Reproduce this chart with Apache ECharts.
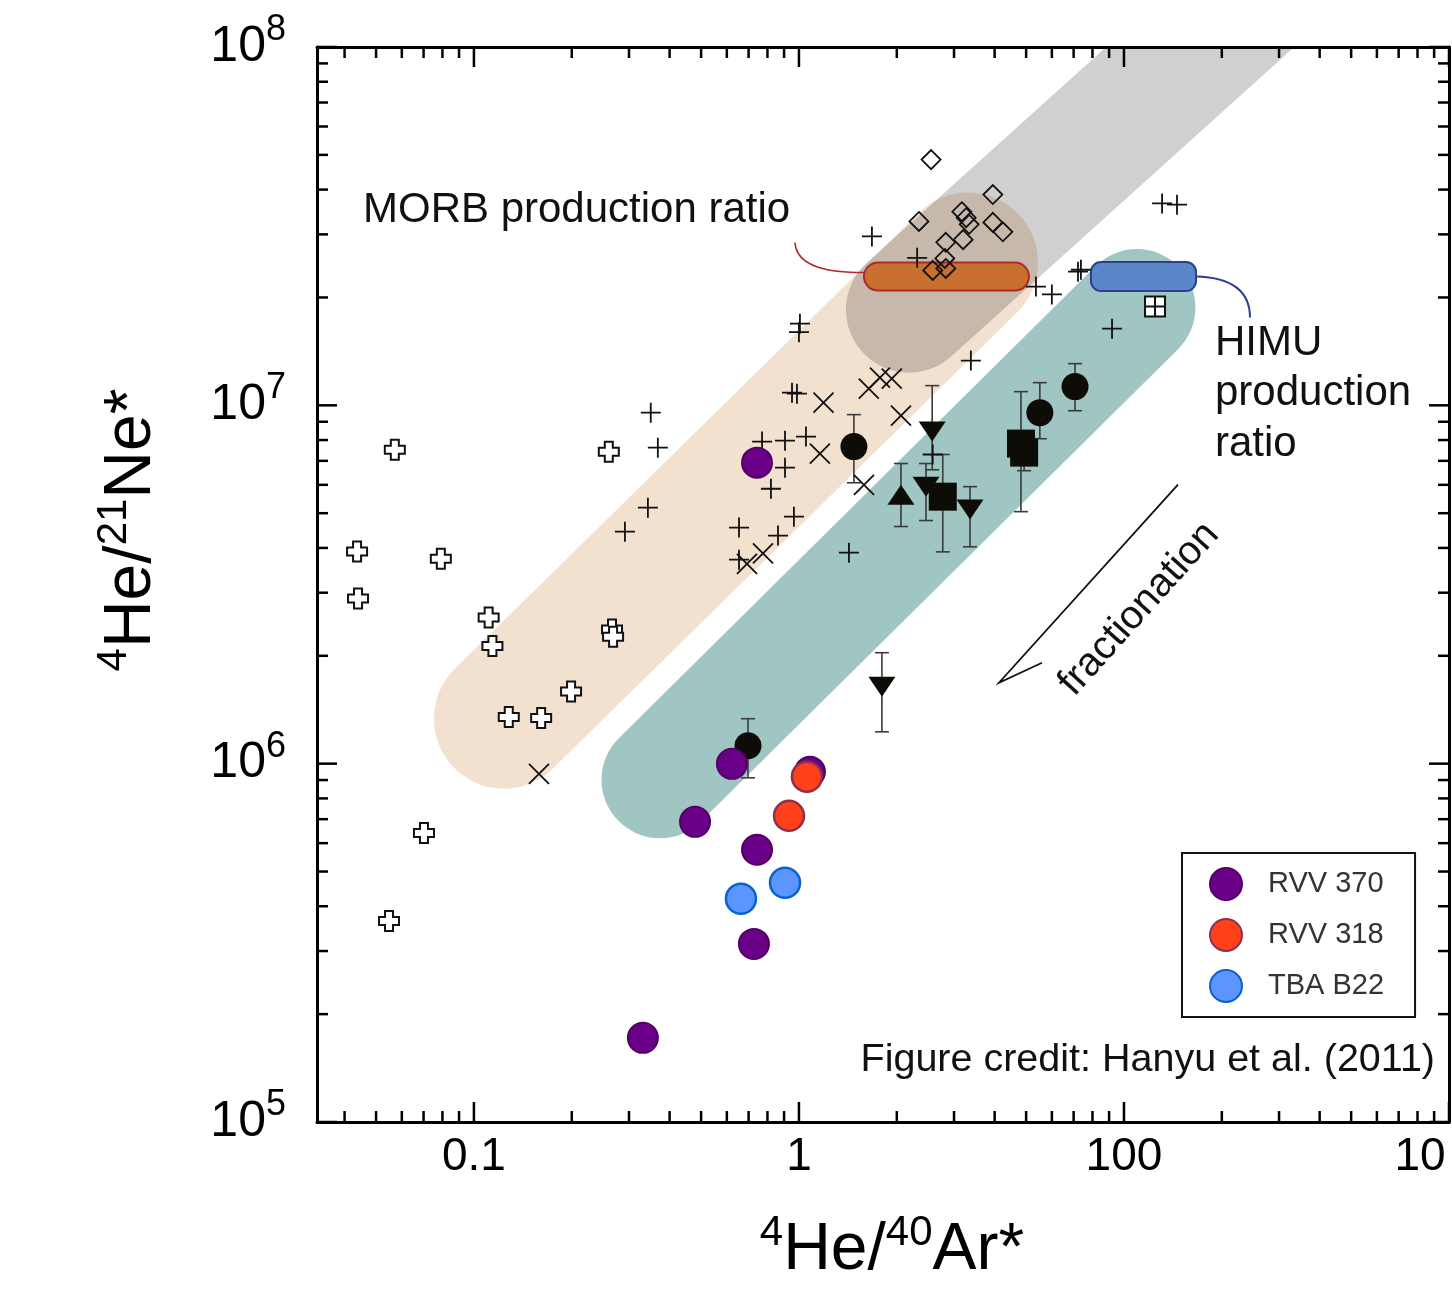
<!DOCTYPE html>
<html>
<head>
<meta charset="utf-8">
<title>4He/21Ne* vs 4He/40Ar*</title>
<script src="https://cdn.jsdelivr.net/npm/echarts@6/dist/echarts.min.js"></script>
<style>
  html, body { margin: 0; padding: 0; background: #fff; }
  #chart { width: 1452px; height: 1291px; }
</style>
</head>
<body>
<div id="chart"></div>
<script>
// ---------------- axes ----------------
const xRange = [0.0329, 100];
const yRange = [1e5, 1e8];
const xMajorTicks = [0.1, 1, 10, 100];
const xTickLabels = ['0.1', '1', '100', '10'];
const yMajorTicks = [1e5, 1e6, 1e7, 1e8];
const yTickExponents = ['5', '6', '7', '8'];

// ---------------- literature data: [4He/40Ar*, 4He/21Ne*] ----------------
const openCrossPoints = [
  [0.0571, 7.52e6], [0.260, 7.42e6], [0.0437, 3.91e6], [0.0791, 3.73e6],
  [0.0440, 2.89e6], [0.111, 2.56e6], [0.114, 2.13e6], [0.266, 2.37e6],
  [0.268, 2.26e6], [0.199, 1.59e6], [0.128, 1.35e6], [0.161, 1.34e6],
  [0.0702, 6.41e5], [0.0548, 3.64e5]
];
const xMarkPoints = [
  [1.19, 1.017e7], [1.16, 7.33e6], [1.585, 6.0e6], [2.06, 9.36e6],
  [1.64, 1.113e7], [1.775, 1.195e7], [1.93, 1.187e7], [0.775, 3.86e6],
  [0.692, 3.61e6], [0.1585, 9.37e5]
];
const plusPoints = [
  [1.677, 2.96e7], [2.31, 2.58e7], [1.007, 1.69e7], [1.0, 1.6e7],
  [0.952, 1.085e7], [0.986, 1.078e7], [0.350, 9.54e6], [0.368, 7.62e6],
  [0.2915, 4.44e6], [0.343, 5.18e6], [0.770, 7.92e6], [0.906, 7.97e6],
  [1.051, 8.18e6], [0.906, 6.70e6], [0.820, 5.85e6], [0.965, 4.89e6],
  [0.862, 4.33e6], [0.654, 4.56e6], [0.654, 3.71e6], [1.425, 3.88e6],
  [2.58, 7.29e6], [3.38, 1.333e7], [5.36, 2.145e7], [6.00, 2.04e7],
  [7.22, 2.36e7], [7.37, 2.39e7], [9.19, 1.637e7], [13.1, 3.66e7],
  [14.56, 3.63e7]
];
const diamondPoints = [
  [2.55, 4.85e7], [3.95, 3.875e7], [2.34, 3.26e7], [3.17, 3.47e7],
  [3.27, 3.34e7], [3.34, 3.2e7], [3.95, 3.24e7], [4.24, 3.05e7],
  [2.83, 2.85e7], [3.20, 2.9e7], [2.81, 2.57e7], [2.58, 2.38e7],
  [2.83, 2.41e7]
];
const boxedPlusPoints = [[12.46, 1.886e7]];

// [4He/40Ar*, 4He/21Ne*, lower, upper]
const blackCircles = [
  [1.476, 7.67e6, 6.08e6, 9.42e6], [5.51, 9.54e6, 8.07e6, 1.157e7],
  [7.07, 1.128e7, 9.66e6, 1.307e7], [0.697, 1.122e6, 9.13e5, 1.335e6]
];
const blackSquares = [
  [2.77, 5.56e6, 3.9e6, 7.29e6], [4.82, 7.82e6, 5.05e6, 1.092e7],
  [4.93, 7.38e6, 6.57e6, 8.23e6]
];
const blackTrianglesUp = [[2.06, 5.63e6, 4.59e6, 6.88e6]];
const blackTrianglesDown = [
  [2.57, 8.45e6, 6.61e6, 1.135e7], [2.46, 5.93e6, 4.77e6, 6.88e6],
  [3.36, 5.12e6, 4.03e6, 5.93e6], [1.80, 1.64e6, 1.227e6, 2.04e6]
];

// ---------------- samples of this study ----------------
const rvv370 = [
  [0.622, 9.99e5], [0.479, 6.88e5], [0.743, 5.75e5], [0.727, 3.14e5],
  [0.331, 1.717e5], [1.081, 9.49e5], [0.743, 6.92e6]
];
const rvv318 = [[1.058, 9.19e5], [0.932, 7.15e5]];
const tbaB22 = [[0.906, 4.65e5], [0.663, 4.2e5]];

// ---------------- fields and production ratios ----------------
const morbField = [[0.1237, 1.335e6], [3.311, 2.503e7]];
const himuField = [[0.3736, 9.02e5], [10.96, 1.874e7]];
const greyField = [[2.18, 1.85e7], [35.8, 1.824e8]];
const morbRatio = [1.585, 5.10, 2.288e7];   // [x from, x to, 4He/21Ne*]
const himuRatio = [7.915, 16.66, 2.288e7];
const morbLeader = [[0.972, 2.846e7], [0.986, 2.423e7], [1.246, 2.347e7], [1.585, 2.347e7]];
const himuLeader = [[16.66, 2.288e7], [21.49, 2.273e7], [24.42, 2.077e7], [24.42, 1.757e7]];
const fractionationWedge = [[14.66, 6.005e6], [4.125, 1.682e6], [5.594, 1.913e6]];

// ---------------- drawing ----------------
const FONT = '"Liberation Sans", Arial, Helvetica, sans-serif';
const INK = '#0d0c06';

function isDecade(v, list) {
  return list.findIndex(t => Math.abs(Math.log10(t) - Math.log10(v)) < 1e-6);
}

// minor/major tick values spanning each axis range
function logTicks(range) {
  const out = [];
  const lo = Math.floor(Math.log10(range[0]));
  const hi = Math.ceil(Math.log10(range[1]));
  for (let e = lo; e <= hi; e++) {
    for (let k = 1; k <= 9; k++) {
      const v = k * Math.pow(10, e);
      if (v >= range[0] * 0.9999 && v <= range[1] * 1.0001) out.push([v, k === 1 ? 1 : 0]);
    }
  }
  return out;
}

function capsule(name, ends, width, fill) {
  return {
    type: 'custom', name, z: 1, silent: true, clip: true,
    data: [[ends[0][0], ends[0][1], ends[1][0], ends[1][1]]],
    encode: { x: [0, 2], y: [1, 3] },
    renderItem(params, api) {
      const a = api.coord([api.value(0), api.value(1)]);
      const b = api.coord([api.value(2), api.value(3)]);
      const dx = b[0] - a[0], dy = b[1] - a[1];
      const len = Math.hypot(dx, dy);
      return {
        type: 'rect',
        x: (a[0] + b[0]) / 2, y: (a[1] + b[1]) / 2,
        rotation: Math.atan2(-dy, dx),
        shape: { x: -len / 2 - width / 2, y: -width / 2, width: len + width, height: width, r: width / 2 },
        style: { fill }
      };
    }
  };
}

function ratioBar(name, bar, height, radius, fill, stroke) {
  return {
    type: 'custom', name, z: 2, silent: true,
    data: [[bar[0], bar[2], bar[1]]],
    encode: { x: [0, 2], y: 1 },
    renderItem(params, api) {
      const a = api.coord([api.value(0), api.value(1)]);
      const b = api.coord([api.value(2), api.value(1)]);
      return {
        type: 'rect',
        shape: { x: a[0], y: a[1] - height / 2, width: b[0] - a[0], height, r: radius },
        style: { fill, stroke, lineWidth: 2 }
      };
    }
  };
}

function leader(name, pts, stroke, lineWidth) {
  return {
    type: 'custom', name, z: 2, silent: true,
    data: [pts.flat()],
    encode: { x: [0, 2, 4, 6], y: [1, 3, 5, 7] },
    renderItem(params, api) {
      const p = [0, 1, 2, 3].map(i => api.coord([api.value(2 * i), api.value(2 * i + 1)]));
      return {
        type: 'bezierCurve',
        shape: { x1: p[0][0], y1: p[0][1], cpx1: p[1][0], cpy1: p[1][1], cpx2: p[2][0], cpy2: p[2][1], x2: p[3][0], y2: p[3][1] },
        style: { stroke, lineWidth, fill: null }
      };
    }
  };
}

function polylineSeries(name, pts) {
  return {
    type: 'custom', name, z: 2, silent: true,
    data: [pts.flat()],
    encode: { x: [0, 2, 4], y: [1, 3, 5] },
    renderItem(params, api) {
      const p = [0, 1, 2].map(i => api.coord([api.value(2 * i), api.value(2 * i + 1)]));
      return { type: 'polyline', shape: { points: p }, style: { stroke: '#111', lineWidth: 1.8, fill: null } };
    }
  };
}

const errorRows = [].concat(blackCircles, blackSquares, blackTrianglesUp, blackTrianglesDown);

const series = [
  capsule('MORB field', morbField, 140, '#f3e1cf'),
  capsule('HIMU field', himuField, 117, '#9fc6c3'),
  capsule('Grey field', greyField, 126, 'rgba(50,50,50,0.23)'),
  ratioBar('MORB production ratio', morbRatio, 28, 14, '#c8702f', '#b3262a'),
  ratioBar('HIMU production ratio', himuRatio, 29, 10, '#5b87c9', '#2f3d95'),
  leader('MORB leader', morbLeader, '#b3262a', 1.6),
  leader('HIMU leader', himuLeader, '#2f3d95', 2),
  polylineSeries('fractionation', fractionationWedge),
  {
    type: 'custom', name: 'x ticks', z: 3, silent: true,
    data: logTicks(xRange).map(t => [t[0], yRange[0], t[1]]),
    encode: { x: 0, y: 1 },
    renderItem(params, api) {
      const p = api.coord([api.value(0), api.value(1)]);
      const cs = params.coordSys;
      const len = api.value(2) ? 20 : 11;
      const st = { stroke: '#000', lineWidth: 2.5 };
      return { type: 'group', children: [
        { type: 'line', shape: { x1: p[0], y1: cs.y + cs.height, x2: p[0], y2: cs.y + cs.height - len }, style: st },
        { type: 'line', shape: { x1: p[0], y1: cs.y, x2: p[0], y2: cs.y + len }, style: st }
      ] };
    }
  },
  {
    type: 'custom', name: 'y ticks', z: 3, silent: true,
    data: logTicks(yRange).map(t => [xRange[0], t[0], t[1]]),
    encode: { x: 0, y: 1 },
    renderItem(params, api) {
      const p = api.coord([api.value(0), api.value(1)]);
      const cs = params.coordSys;
      const len = api.value(2) ? 20 : 11;
      const st = { stroke: '#000', lineWidth: 2.5 };
      return { type: 'group', children: [
        { type: 'line', shape: { x1: cs.x, y1: p[1], x2: cs.x + len, y2: p[1] }, style: st },
        { type: 'line', shape: { x1: cs.x + cs.width, y1: p[1], x2: cs.x + cs.width - len, y2: p[1] }, style: st }
      ] };
    }
  },
  {
    type: 'custom', name: 'error bars', z: 4, silent: true,
    data: errorRows.map(r => [r[0], r[2], r[3]]),
    encode: { x: 0, y: [1, 2] },
    renderItem(params, api) {
      const lo = api.coord([api.value(0), api.value(1)]);
      const hi = api.coord([api.value(0), api.value(2)]);
      const cap = 7;
      const st = { stroke: '#3b3b3b', lineWidth: 1.6 };
      return { type: 'group', children: [
        { type: 'line', shape: { x1: lo[0], y1: lo[1], x2: hi[0], y2: hi[1] }, style: st },
        { type: 'line', shape: { x1: lo[0] - cap, y1: lo[1], x2: lo[0] + cap, y2: lo[1] }, style: st },
        { type: 'line', shape: { x1: hi[0] - cap, y1: hi[1], x2: hi[0] + cap, y2: hi[1] }, style: st }
      ] };
    }
  },
  {
    type: 'scatter', name: 'open cross', z: 5, silent: true,
    data: openCrossPoints,
    symbol: 'path://M6,0H14V6H20V14H14V20H6V14H0V6H6Z', symbolSize: 20,
    itemStyle: { color: '#fff', borderColor: '#111', borderWidth: 2, opacity: 1 }
  },
  {
    type: 'scatter', name: 'cross', z: 5, silent: true,
    data: xMarkPoints,
    symbol: 'path://M0,0L20,20M20,0L0,20', symbolSize: 20,
    itemStyle: { color: 'transparent', borderColor: '#111', borderWidth: 1.8, opacity: 1 }
  },
  {
    type: 'scatter', name: 'plus', z: 5, silent: true,
    data: plusPoints,
    symbol: 'path://M10,0V20M0,10H20', symbolSize: 20,
    itemStyle: { color: 'transparent', borderColor: '#111', borderWidth: 1.8, opacity: 1 }
  },
  {
    type: 'scatter', name: 'diamond', z: 5, silent: true,
    data: diamondPoints,
    symbol: 'diamond', symbolSize: 19,
    itemStyle: { color: 'transparent', borderColor: '#111', borderWidth: 1.8, opacity: 1 }
  },
  {
    type: 'scatter', name: 'boxed plus', z: 5, silent: true,
    data: boxedPlusPoints,
    symbol: 'path://M0,0H20V20H0ZM10,0V20M0,10H20', symbolSize: 20,
    itemStyle: { color: '#fff', borderColor: '#111', borderWidth: 2, opacity: 1 }
  },
  {
    type: 'scatter', name: 'black circle', z: 5, silent: true,
    data: blackCircles.map(r => [r[0], r[1]]),
    symbol: 'circle', symbolSize: 27,
    itemStyle: { color: INK, opacity: 1 }
  },
  {
    type: 'scatter', name: 'black square', z: 5, silent: true,
    data: blackSquares.map(r => [r[0], r[1]]),
    symbol: 'rect', symbolSize: 28,
    itemStyle: { color: INK, opacity: 1 }
  },
  {
    type: 'scatter', name: 'black triangle up', z: 5, silent: true,
    data: blackTrianglesUp.map(r => [r[0], r[1]]),
    symbol: 'triangle', symbolSize: [27, 20],
    itemStyle: { color: INK, opacity: 1 }
  },
  {
    type: 'scatter', name: 'black triangle down', z: 5, silent: true,
    data: blackTrianglesDown.map(r => [r[0], r[1]]),
    symbol: 'triangle', symbolRotate: 180, symbolSize: [27, 20],
    itemStyle: { color: INK, opacity: 1 }
  },
  {
    type: 'scatter', name: 'RVV 370', z: 6,
    data: rvv370, symbol: 'circle', symbolSize: 30,
    itemStyle: { color: '#6b0088', borderColor: '#520066', borderWidth: 2, opacity: 1 }
  },
  {
    type: 'scatter', name: 'RVV 318', z: 6,
    data: rvv318, symbol: 'circle', symbolSize: 30,
    itemStyle: { color: '#ff4019', borderColor: '#8e2f50', borderWidth: 2.5, opacity: 1 }
  },
  {
    type: 'scatter', name: 'TBA B22', z: 6,
    data: tbaB22, symbol: 'circle', symbolSize: 30,
    itemStyle: { color: '#5c95ff', borderColor: '#0a62cc', borderWidth: 2.5, opacity: 1 }
  }
];

function logAxis(range, position, extra) {
  return Object.assign({
    type: 'log', logBase: 10, min: range[0], max: range[1], position, z: 10,
    axisLine: { show: true, onZero: false, lineStyle: { color: '#000', width: 3 } },
    axisTick: { show: false }, minorTick: { show: false },
    splitLine: { show: false }, minorSplitLine: { show: false },
    axisLabel: { show: false }
  }, extra || {});
}

const option = {
  animation: false,
  backgroundColor: '#fff',
  grid: { left: 317, right: 3, top: 47, bottom: 169, containLabel: false, outerBoundsMode: 'none' },
  xAxis: [
    logAxis(xRange, 'bottom', {
      axisLabel: {
        show: true, margin: 12, fontSize: 46, fontFamily: FONT, color: '#000',
        formatter: v => {
          const i = isDecade(v, xMajorTicks);
          if (i < 0) return '';
          // the last label sits at the right edge of the frame and reads to its left
          return i === xTickLabels.length - 1 ? '{r|' + xTickLabels[i] + '}' : xTickLabels[i];
        },
        rich: { r: { fontSize: 46, fontFamily: FONT, color: '#000', padding: [0, 58, 0, 0] } }
      }
    }),
    logAxis(xRange, 'top')
  ],
  yAxis: [
    logAxis(yRange, 'left', {
      axisLabel: {
        show: true, margin: 31, color: '#000',
        formatter: v => { const i = isDecade(v, yMajorTicks); return i < 0 ? '' : '{b|10}{s|' + yTickExponents[i] + '}'; },
        rich: {
          b: { fontSize: 50, fontFamily: FONT, color: '#000' },
          s: { fontSize: 36, fontFamily: FONT, color: '#000', padding: [0, 0, 34, 0] }
        }
      }
    }),
    logAxis(yRange, 'right')
  ],
  legend: {
    data: ['RVV 370', 'RVV 318', 'TBA B22'],
    orient: 'vertical', left: 1182, top: 853,
    padding: [14, 31, 14, 27], itemWidth: 32, itemHeight: 32, itemGap: 17,
    icon: 'circle', selectedMode: false,
    borderColor: '#111', borderWidth: 2, backgroundColor: '#fff',
    textStyle: { fontSize: 29, color: '#333', fontFamily: FONT, padding: [0, 0, 0, 21] }
  },
  graphic: [
    {
      type: 'text', x: 892, y: 1251, z: 20,
      style: {
        text: '{s|4}{b|He/}{s|40}{b|Ar*}',
        rich: {
          b: { fontSize: 66, fontFamily: FONT },
          s: { fontSize: 42, fontFamily: FONT, padding: [0, 0, 36, 0] }
        },
        fill: '#000', textAlign: 'center', textVerticalAlign: 'middle', align: 'center', verticalAlign: 'middle'
      }
    },
    {
      type: 'text', x: 132, y: 530, rotation: Math.PI / 2, z: 20,
      style: {
        text: '{s|4}{b|He/}{s|21}{b|Ne*}',
        rich: {
          b: { fontSize: 66, fontFamily: FONT },
          s: { fontSize: 42, fontFamily: FONT, padding: [0, 0, 36, 0] }
        },
        fill: '#000', textAlign: 'center', textVerticalAlign: 'middle', align: 'center', verticalAlign: 'middle'
      }
    },
    {
      type: 'text', x: 363, y: 210, z: 20,
      style: {
        text: 'MORB production ratio', fontSize: 42, fontFamily: FONT, fill: '#111',
        textAlign: 'left', textVerticalAlign: 'middle', align: 'left', verticalAlign: 'middle'
      }
    },
    {
      type: 'text', x: 1215, y: 318, z: 20,
      style: {
        text: 'HIMU\nproduction\nratio', fontSize: 42, lineHeight: 50.5, fontFamily: FONT, fill: '#111',
        textAlign: 'left', textVerticalAlign: 'top', align: 'left', verticalAlign: 'top'
      }
    },
    {
      type: 'text', x: 1139, y: 609, rotation: 48 * Math.PI / 180, z: 20,
      style: {
        text: 'fractionation', fontSize: 40, fontFamily: FONT, fill: '#111',
        textAlign: 'center', textVerticalAlign: 'middle', align: 'center', verticalAlign: 'middle'
      }
    },
    {
      type: 'text', x: 1435, y: 1060, z: 20,
      style: {
        text: 'Figure credit: Hanyu et al. (2011)', fontSize: 39.5, fontFamily: FONT, fill: '#111',
        textAlign: 'right', textVerticalAlign: 'middle', align: 'right', verticalAlign: 'middle'
      }
    }
  ],
  series
};

const chart = echarts.init(document.getElementById('chart'), null, { renderer: 'canvas' });
chart.setOption(option);
</script>
</body>
</html>
